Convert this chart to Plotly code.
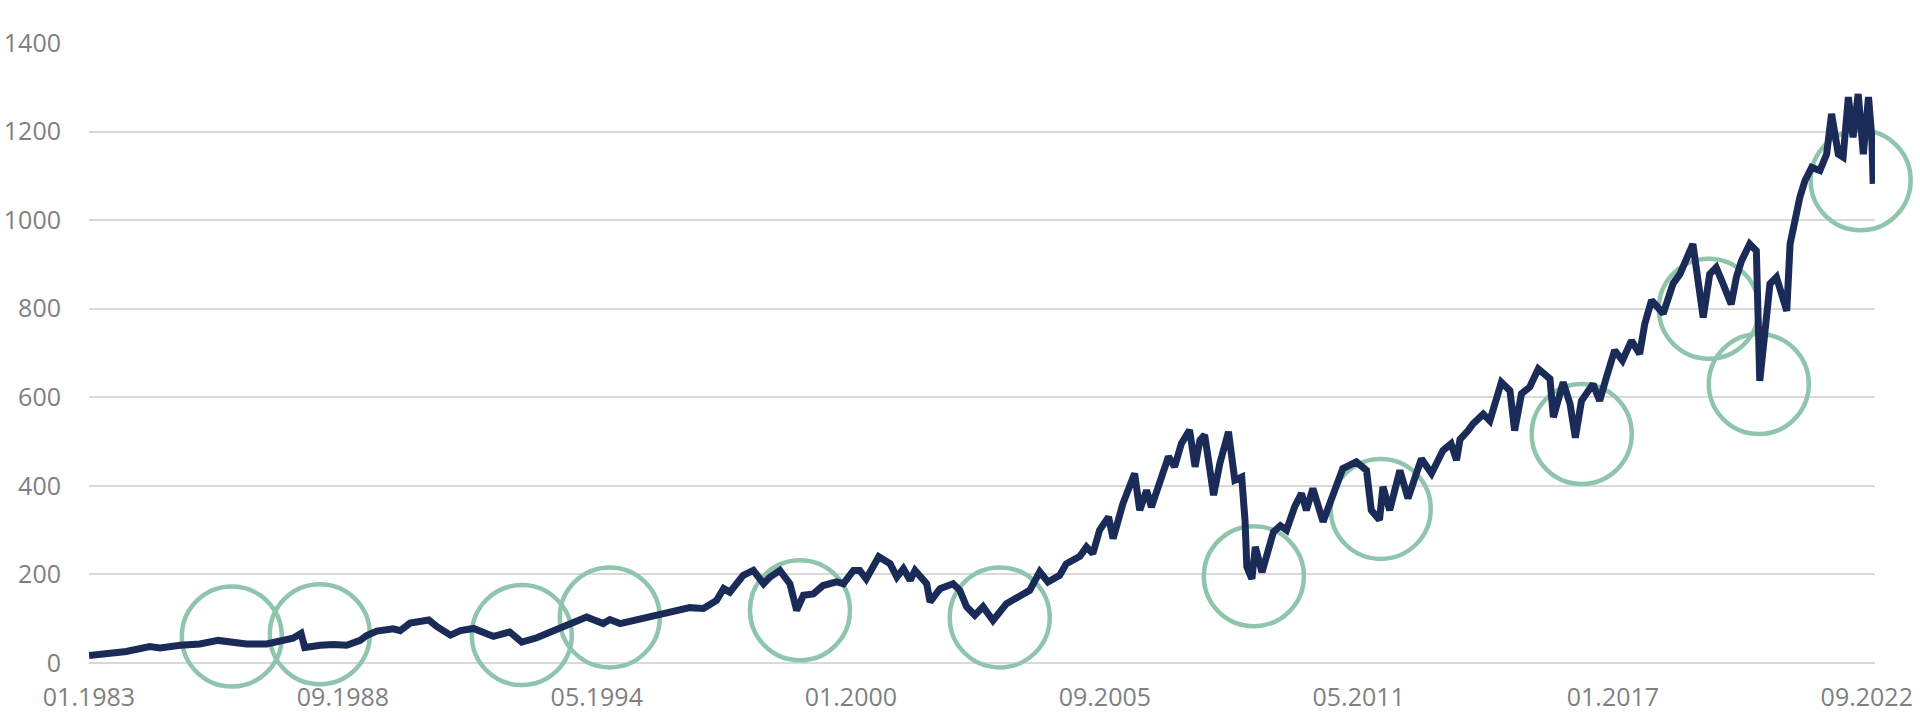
import plotly.graph_objects as go

# Index series (date, value)
dates = [
    "1983-01-01", "1983-11-01", "1984-05-10", "1984-08-01", "1985-01-13", "1985-06-22", "1985-11-19",
    "1986-03-19", "1986-07-07", "1986-12-19", "1987-04-04", "1987-07-22", "1987-09-25", "1987-10-15",
    "1987-10-25", "1988-02-28", "1988-06-13", "1988-10-01", "1989-01-19", "1989-03-13", "1989-06-04",
    "1989-10-16", "1989-12-10", "1990-03-01", "1990-05-22", "1990-08-01", "1990-10-07", "1991-01-25",
    "1991-04-16", "1991-08-01", "1991-11-16", "1992-01-10", "1992-05-22", "1992-08-28", "1992-12-28",
    "1993-04-13", "1993-08-01", "1993-10-22", "1994-02-07", "1994-06-22", "1994-08-16", "1994-11-07",
    "1995-02-22", "1995-06-10", "1995-09-01", "1996-01-13", "1996-05-28", "1996-09-16", "1997-01-01",
    "1997-02-28", "1997-04-19", "1997-08-07", "1997-10-28", "1998-01-19", "1998-03-13", "1998-06-01",
    "1998-08-22", "1998-10-16", "1998-12-10", "1999-03-01", "1999-05-19", "1999-09-07", "1999-11-01",
    "2000-01-22", "2000-03-13", "2000-05-05", "2000-08-15", "2000-11-16", "2001-01-10", "2001-03-04",
    "2001-04-28", "2001-06-07", "2001-09-10", "2001-10-07", "2001-12-28", "2002-04-13", "2002-06-07",
    "2002-08-01", "2002-10-07", "2002-12-13", "2003-03-04", "2003-06-22", "2003-10-07", "2003-12-28",
    "2004-03-19", "2004-05-25", "2004-08-28", "2004-10-22",
    "2005-02-09", "2005-04-04", "2005-05-26", "2005-07-20", "2005-10-01", "2005-11-07", "2006-01-26",
    "2006-03-21", "2006-05-01", "2006-06-12", "2006-08-07", "2006-09-15", "2006-11-21", "2007-02-01",
    "2007-03-23", "2007-05-18", "2007-07-23", "2007-09-06", "2007-10-15", "2007-11-23", "2007-12-20",
    "2008-02-04", "2008-03-26", "2008-06-04", "2008-07-26", "2008-09-20", "2008-10-17", "2008-11-01",
    "2008-12-12", "2009-01-09", "2009-03-04", "2009-04-12", "2009-06-06", "2009-08-01", "2009-09-20",
    "2009-11-26", "2010-01-20", "2010-03-01", "2010-04-23", "2010-07-15", "2010-10-04", "2010-12-23",
    "2011-04-12", "2011-07-04", "2011-08-12", "2011-10-18", "2011-11-15", "2012-01-09", "2012-04-01",
    "2012-06-06", "2012-09-23", "2012-12-15", "2013-03-18", "2013-05-23", "2013-07-07", "2013-08-04",
    "2013-10-09", "2013-11-18", "2014-02-09", "2014-04-04", "2014-07-07", "2014-09-15", "2014-10-23",
    "2014-12-18", "2015-02-23", "2015-05-04", "2015-08-07", "2015-09-04", "2015-11-23", "2016-01-18",
    "2016-03-01", "2016-04-20", "2016-07-23", "2016-09-15", "2016-11-09", "2017-01-15", "2017-03-20",
    "2017-06-01", "2017-08-07", "2017-09-18", "2017-11-12", "2018-02-15", "2018-05-07", "2018-07-01",
    "2018-10-15", "2018-11-26", "2019-01-07", "2019-03-01", "2019-04-23", "2019-06-18", "2019-08-23",
    "2019-10-04", "2019-11-15", "2020-01-21", "2020-03-15", "2020-04-12", "2020-05-21", "2020-07-04",
    "2020-08-26", "2020-10-07", "2020-11-18", "2020-12-15", "2021-01-23", "2021-03-04", "2021-04-15",
    "2021-06-09", "2021-08-15", "2021-10-09", "2021-11-18", "2022-01-12", "2022-02-20", "2022-04-04",
    "2022-05-12", "2022-06-23", "2022-08-04", "2022-09-15", "2022-10-12", "2022-10-23",
]
values = [
    17, 26, 37, 34, 40, 43, 51,
    45, 43, 43, 48, 56, 67, 52,
    35, 40, 42, 40, 51, 62, 72,
    77, 73, 90, 92, 97, 82, 63,
    73, 78, 66, 60, 70, 47, 57,
    70, 83, 92, 104, 89, 98, 89,
    96, 104, 110, 115, 125, 123, 141,
    168, 160, 198, 209, 179, 194, 209,
    179, 119, 153, 156, 175, 183, 179,
    209, 209, 190, 240, 224, 194, 213,
    187, 209, 179, 138, 168, 179, 164,
    127, 108, 127, 96, 134, 149, 164,
    206, 183, 198, 224,
    241, 262, 247, 300, 330, 281, 360,
    398, 428, 345, 390, 352, 413, 466,
    443, 496, 526, 443, 503, 515, 466,
    379, 451, 522, 413, 420, 322, 217,
    190, 262, 205, 247, 296, 310, 300,
    353, 383, 345, 394, 319, 383, 439,
    454, 435, 345, 323, 398, 345, 435,
    372, 461, 428, 480, 495, 458, 505,
    525, 540, 562, 547, 634, 615, 525,
    608, 623, 664, 642, 555, 634, 585,
    509, 592, 630, 592, 645, 706, 683,
    728, 698, 766, 819, 789, 857, 878,
    946, 856, 780, 878, 893, 856, 810,
    871, 908, 946, 931, 637, 735, 856,
    871, 825, 795, 946, 1006, 1051, 1089,
    1119, 1112, 1149, 1240, 1149, 1142, 1278,
    1187, 1285, 1149, 1278, 1187, 1082,
]

# Highlight circles (centre date, centre value)
circle_dates = ["1986-03-10", "1988-02-25", "1992-08-28", "1994-08-15", "1998-11-12", "2003-04-28",
                "2008-12-28", "2011-10-28", "2016-04-22", "2019-02-22", "2020-04-04", "2022-07-13"]
circle_values = [60, 65, 63, 103, 119, 103, 196, 348, 517, 800, 630, 1090]

# Axis ticks
x_tick_dates = ["1983-01-01", "1988-09-01", "1994-05-01", "2000-01-01",
                "2005-09-01", "2011-05-01", "2017-01-01", "2022-09-01"]
x_tick_labels = ["01.1983", "09.1988", "05.1994", "01.2000",
                 "09.2005", "05.2011", "01.2017", "09.2022"]
y_ticks = [0, 200, 400, 600, 800, 1000, 1200, 1400]

NAVY = "#1b2b57"
GREEN = "#8fc4ad"
GRAY_TXT = "#808080"
FONT = "Open Sans, Lato, sans-serif"

fig = go.Figure()
fig.add_trace(go.Scatter(
    x=circle_dates, y=circle_values, mode="markers",
    marker=dict(symbol="circle-open", size=100, color=GREEN,
                line=dict(width=4.5, color=GREEN)),
    cliponaxis=False, hoverinfo="skip", showlegend=False,
))
fig.add_trace(go.Scatter(
    x=dates, y=values, mode="lines",
    line=dict(color=NAVY, width=7, shape="linear"),
    hoverinfo="x+y", showlegend=False,
))

fig.update_layout(
    width=1920, height=720,
    paper_bgcolor="white", plot_bgcolor="white",
    margin=dict(l=89, r=45, t=43, b=57),
    font=dict(family=FONT, color=GRAY_TXT, size=25),
    xaxis=dict(
        type="date", range=["1983-01-01", "2022-11-07"],
        tickvals=x_tick_dates, ticktext=x_tick_labels,
        showgrid=False, zeroline=False, showline=False, automargin=False,
        ticks="outside", ticklen=12, tickcolor="rgba(0,0,0,0)",
        tickfont=dict(family=FONT, size=25, color=GRAY_TXT),
    ),
    yaxis=dict(
        range=[0, 1400], tickvals=y_ticks, automargin=False,
        showgrid=True, gridcolor="#d9d9d9", gridwidth=1.5,
        zeroline=True, zerolinecolor="#d9d9d9", zerolinewidth=1.5,
        showline=False,
        ticks="outside", ticklen=22, tickcolor="rgba(0,0,0,0)",
        tickfont=dict(family=FONT, size=25, color=GRAY_TXT),
    ),
)

fig.write_html(
    "out.html",
    config={"displayModeBar": False},
    post_script=["document.body.style.margin='0';"
                 "document.documentElement.style.overflow='hidden';"
                 "document.body.style.overflow='hidden';"],
)
